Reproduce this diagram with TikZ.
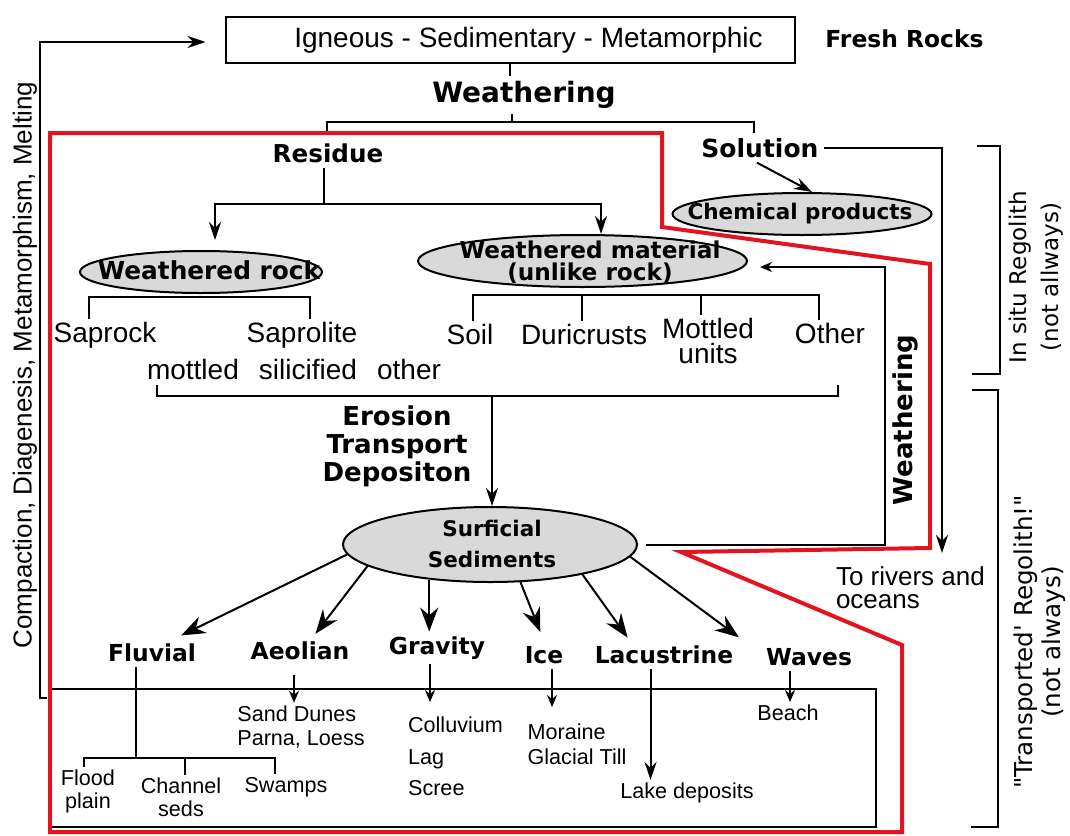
\documentclass[tikz,border=0pt]{standalone}
\usepackage{fontspec}
\setmainfont{Liberation Sans}
\newfontfamily\verd{DejaVu Sans}
\usetikzlibrary{shapes.geometric,arrows.meta}

\definecolor{rockred}{RGB}{226,20,32}

\tikzset{
  lbl/.style={inner sep=1pt, font=\fontsize{14}{16}\selectfont},
  sml/.style={inner sep=1pt, align=left, font=\fontsize{10.8}{11.5}\selectfont},
  hd/.style={inner sep=2pt, font={\verd\bfseries\fontsize{#1}{#1}\selectfont}},
  box/.style={draw, inner sep=0pt, minimum width=284.5pt, minimum height=23pt, font=\fontsize{14}{16}\selectfont},
  bubble/.style={ellipse, draw, fill=black!15, inner sep=0pt},
  redline/.style={draw=rockred, line width=2pt},
  arr/.style={-{Stealth[length=9pt,width=6pt]}},
  bigarr/.style={-{Stealth[length=12pt,width=9pt]}},
  tinyarr/.style={-{Stealth[length=6pt,width=5pt]}}
}

\begin{document}
\begin{tikzpicture}[x=0.5pt,y=-0.5pt,line width=1pt]
\useasboundingbox (0,0) rectangle (1070,835);

	% frame round the deposits
	\draw (50,689) rectangle (876,827);
	% red outline
	\draw[redline] (50,133) -- (662,133) -- (662,227) -- (930,264) -- (930,548)
	      -- (681,552) -- (902,645) -- (902,832) -- (50,832) -- cycle;

	% fresh rocks
	\node[box] (rocks) at (510,40) {\hspace{18.5pt}Igneous - Sedimentary - Metamorphic};
	\node[hd=11.7] (fresh) at (904.5,39) {Fresh Rocks};

	% weathering splits into residue and solution
	\node[hd=14] (weath) at (524,95) {Weathering};
	\coordinate (split) at (512,122);
	\draw (rocks.south) -- (rocks.south |- weath.north);
	\draw (split |- weath.south) -- (split);
	\node[hd=12.3] (residue) at (328,153) {Residue};
	\node[hd=12.5] (solution) at (760,148) {Solution};
	\draw ([xshift=-0.5pt,yshift=3.5pt]residue.north) |- (split) -| ([xshift=-3pt]solution.north);

	% residue
	\coordinate (rfork) at (324,204);
	\node[bubble, minimum width=121pt, minimum height=21pt] (wrock) at (201,272) {};
	\node[hd=12.4, inner sep=0pt] (wrocktxt) at (209,270) {Weathered rock};
	\node[bubble, minimum width=164.5pt, minimum height=26pt] (wmat) at (582.5,261) {};
	\node[inner sep=0pt, align=center, font={\verd\bfseries\fontsize{11.6}{11}\selectfont}] (wmattxt) at (590,262)
	      {Weathered material\\(unlike rock)};
	\draw ([xshift=-2pt]residue.south) -- (rfork);
	\draw[arr, shorten >=5pt] (rfork) -| ([xshift=7pt]wrock.north);
	\draw[arr] (rfork) -| ([xshift=9.25pt]wmat.north);

	% solution
	\node[bubble, minimum width=129.5pt, minimum height=21pt] (chem) at (802,214) {};
	\node[hd=10.75, inner sep=0pt] (chemtxt) at (800,214) {Chemical products};
	\draw[arr] ([xshift=-1.5pt]solution.south) -- ([xshift=5pt]chem.north);
	\coordinate (seaend) at (942,553);
	\draw[arr] (solution.east) -| (seaend);
	\node[inner sep=0pt, anchor=north west, align=left, font=\fontsize{13}{11.5}\selectfont] (rivers) at (835,566)
	      {To rivers and\\oceans};

	% weathered rock
	\node[lbl] (saprock) at (105,335) {Saprock};
	\node[lbl] (saprolite) at (302,335) {Saprolite};
	\node[lbl] (msoth) at (294,369) {mottled\hspace{0.72em}silicified\hspace{0.72em}other};
	\coordinate (wrfork) at (200,297);
	\draw ([xshift=-8pt]saprock.north) |- (wrfork) -| ([xshift=4pt]saprolite.north);

	% weathered material
	\node[lbl] (soil) at (470,334) {Soil};
	\node[lbl] (duri) at (584,334) {Duricrusts};
	\node[lbl, align=center, font=\fontsize{14}{12.5}\selectfont] (mottu) at (708,341) {Mottled\\units};
	\node[lbl] (other) at (830,333) {Other};
	\coordinate (wmfork) at (640,295);
	\draw ([xshift=1.5pt]soil.north) |- (wmfork) -| ([xshift=-5.5pt]other.north);
	\draw ([xshift=-1pt]duri.north) -- ([xshift=-1pt]duri.north |- wmfork);
	\draw ([xshift=-3.5pt]mottu.north) -- ([xshift=-3.5pt]mottu.north |- wmfork);

	% erosion, transport, deposition
	\coordinate (eroL) at (157,385);
	\coordinate (eroR) at (838,385);
	\coordinate (erofork) at (492,396);
	\draw (eroL) -- ++(0,11) -| (eroR);
	\node[inner sep=0pt, align=center, font={\verd\bfseries\fontsize{13}{14}\selectfont}] (eros) at (397,446)
	      {Erosion\\Transport\\Depositon};
	\node[bubble, minimum width=147pt, minimum height=37.5pt] (surf) at (490,544.5) {};
	\node[inner sep=0pt, align=center, font={\verd\bfseries\fontsize{10.75}{15.5}\selectfont}] (surftxt) at (492,544)
	      {Surficial\\Sediments};
	\draw[arr] (erofork) -- (erofork |- surf.north);

	% weathering of the sediments
	\coordinate (wturn) at (885,267);
	\draw[tinyarr] ([xshift=4pt]surf.east) -| (wturn) -- ([xshift=6pt]wmat.east |- wturn);
	\node[hd=13, rotate=90] (weath2) at (905,420) {Weathering};

	% agents
	\node[hd=11.7] (fluv) at (152,653) {Fluvial};
	\node[hd=11.7] (aeol) at (300,651) {Aeolian};
	\node[hd=11.7] (grav) at (437,648) {Gravity};
	\node[hd=11.7] (ice) at (544,655) {Ice};
	\node[hd=11.7] (lacu) at (664,655) {Lacustrine};
	\node[hd=11.7] (waves) at (809,657) {Waves};
	\draw[bigarr, shorten >=4pt] (surf.184) -- ([xshift=11pt]fluv.north);
	\draw[bigarr, shorten >=2pt] (surf.190) -- ([xshift=6.5pt]aeol.north);
	\draw[bigarr] (surf.210) -- (surf.210 |- grav.north);
	\draw[bigarr, shorten >=5pt] (surf.309) -- (ice.north);
	\draw[bigarr, shorten >=2pt] (surf.342) -- ([xshift=-17pt]lacu.north);
	\draw[bigarr, shorten >=5pt] (surf.355) -- ([xshift=-31pt]waves.north);

	% deposits
	\node[sml, align=center] (flood) at (88,791.5) {Flood\\plain};
	\node[sml, align=center] (chan) at (181,797.5) {Channel\\seds};
	\node[sml] (swamp) at (286,787) {Swamps};
	\coordinate (flfork) at (136,758);
	\draw ([xshift=-8pt]fluv.south) -- (flfork);
	\draw ([xshift=-2pt]flood.north) |- (flfork) -| ([xshift=-5.5pt]swamp.north);
	\draw ([xshift=2pt]chan.north) -- ([xshift=2pt]chan.north |- flfork);
	\node[sml, font=\fontsize{10.8}{12}\selectfont] (dunes) at (301,727) {Sand Dunes\\Parna, Loess};
	\draw[tinyarr, shorten <=5pt] ([xshift=-3pt]aeol.south) -- ([xshift=-3pt]aeol.south |- dunes.north);
	\node[sml, font=\fontsize{10.8}{15.75}\selectfont] (coll) at (455.5,756.5) {Colluvium\\Lag\\Scree};
	\draw[tinyarr] ([xshift=-3.5pt]grav.south) -- ([xshift=-3.5pt,yshift=6pt]grav.south |- coll.north);
	\node[sml, font=\fontsize{10.8}{12.5}\selectfont] (mor) at (577,744.5) {Moraine\\Glacial Till};
	\draw[tinyarr] ([xshift=4pt]ice.south) -- ([xshift=4pt,yshift=7pt]ice.south |- mor.north);
	\node[sml] (lake) at (687,793) {Lake deposits};
	\draw[arr] ([xshift=-6.75pt]lacu.south) -- ([xshift=-6.75pt]lacu.south |- lake.north);
	\node[sml] (beach) at (788,713) {Beach};
	\draw[tinyarr] ([xshift=-9.5pt]waves.south) -- ([xshift=-9.5pt]waves.south |- beach.north);

	% back to fresh rocks
	\coordinate (cyc) at (47,698);
	\draw[arr] (cyc) -- (40,698) |- ([xshift=-9.5pt,yshift=-1pt]rocks.west);
	\node[inner sep=0pt, rotate=90, font=\fontsize{13}{15}\selectfont] (cycle) at (25,365)
	      {Compaction, Diagenesis, Metamorphism, Melting};

	% regolith brackets
	\coordinate (insituT) at (977,146);
	\coordinate (insituB) at (972,374);
	\draw (insituT) -- (1000,146) -- (1000,374) -- (insituB);
	\node[inner sep=0pt, rotate=90, align=center, font={\verd\fontsize{11.5}{16}\selectfont}] (insitu) at (1036,277)
	      {In situ Regolith\\(not allways)};
	\coordinate (transT) at (972,390);
	\coordinate (transB) at (971,827);
	\draw (transT) -- (998,390) -- (998,827) -- (transB);
	\node[inner sep=0pt, rotate=90, align=center, font={\verd\fontsize{12.3}{14}\selectfont}] (transp) at (1040,642)
	      {"Transported' Regolith!"\\(not always)};

\end{tikzpicture}
\end{document}
